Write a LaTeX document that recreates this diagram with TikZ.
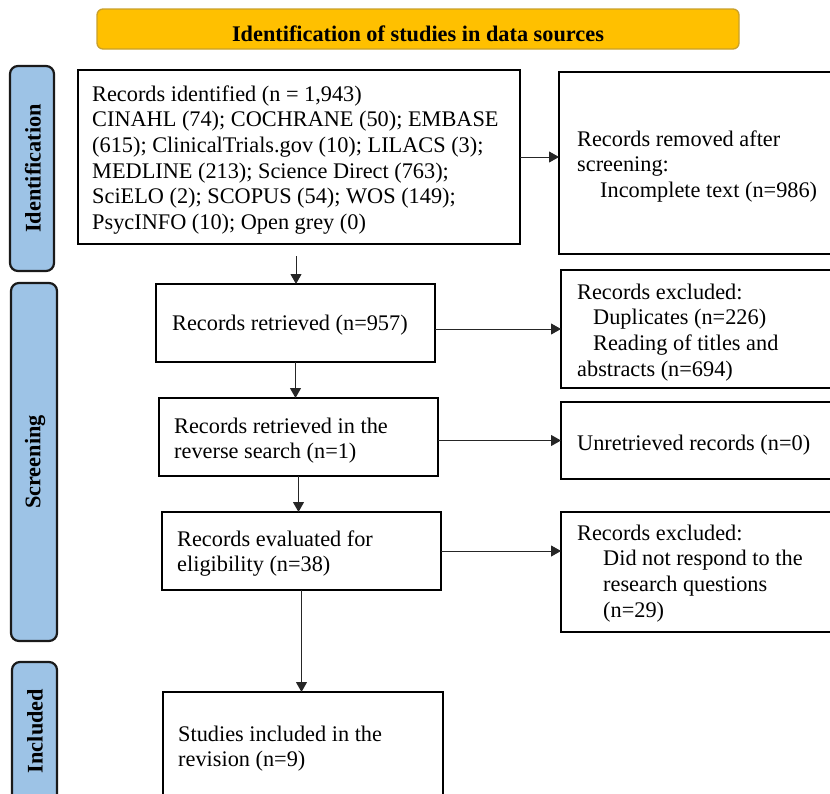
\documentclass[tikz,border=0pt]{standalone}
\usepackage{fontspec}
\setmainfont{Liberation Serif}
\usetikzlibrary{arrows.meta}
\definecolor{hdrfill}{HTML}{FFC000}
\definecolor{hdrline}{HTML}{C9A02A}
\definecolor{sidefill}{HTML}{9DC3E6}
\definecolor{sideline}{HTML}{1A1A1A}
\begin{document}
\begin{tikzpicture}[x=1pt,y=-1pt,
  box/.style={draw=black, line width=1.8pt, inner sep=0pt, outer sep=0pt, fill=white},
  sidebox/.style={draw=sideline, fill=sidefill, line width=2.2pt, rounded corners=8pt, inner sep=0pt, outer sep=0pt},
  txt/.style={anchor=north west, inner sep=0pt, align=left, font=\fontsize{22.3}{25.7}\selectfont},
  arr/.style={line width=1pt, draw=black!85, -{Triangle[length=10pt,width=11pt]}},
  sidelabel/.style={rotate=90, font=\fontsize{22.3}{25.7}\selectfont\bfseries, inner sep=0pt},
  hdrbox/.style={draw=hdrline, fill=hdrfill, line width=1.3pt, rounded corners=6pt, inner sep=0pt}
]
\useasboundingbox (0,0) rectangle (830,793);
\clip (0,0) rectangle (830,793);

% header
\node[hdrbox, minimum width=642pt, minimum height=40pt] (hdr) at (418,29) {};
\node[font=\fontsize{22.3}{25.7}\selectfont\bfseries, anchor=base, inner sep=0pt] (hdrtxt) at (418,41) {Identification of studies in data sources};

% side labels
\node[sidebox, minimum width=44pt, minimum height=205pt] (sid) at (32,168.5) {};
\node[sidelabel] (sidt) at (33,168.5) {Identification};
\node[sidebox, minimum width=46pt, minimum height=358pt] (scr) at (34,462) {};
\node[sidelabel] (scrt) at (35,462) {Screening};
\node[sidebox, minimum width=45pt, minimum height=148pt] (inc) at (34.5,736) {};
\node[sidelabel] (inct) at (35,731) {Included};

% boxes
\node[box, minimum width=442pt, minimum height=174pt] (b1) at (299,157) {};
\node[box, minimum width=286pt, minimum height=182pt] (r1) at (702,163) {};
\node[box, minimum width=279pt, minimum height=78pt] (b2) at (295.5,323) {};
\node[box, minimum width=284pt, minimum height=118pt] (r2) at (703,329) {};
\node[box, minimum width=279pt, minimum height=78pt] (b3) at (298.5,437) {};
\node[box, minimum width=284pt, minimum height=77pt] (r3) at (703,440.5) {};
\node[box, minimum width=279pt, minimum height=78pt] (b4) at (301.5,551) {};
\node[box, minimum width=284pt, minimum height=120pt] (r4) at (703,572) {};
\node[box, minimum width=280pt, minimum height=118pt] (b5) at (303,751) {};

% texts (y = first baseline - 18)
\node[txt] (t1) at (92,83) {\strut Records identified (n = 1,943)\\
\strut CINAHL (74); COCHRANE (50); EMBASE\\
\strut (615); ClinicalTrials.gov (10); LILACS (3);\\
\strut MEDLINE (213); Science Direct (763);\\
\strut SciELO (2); SCOPUS (54); WOS (149);\\
\strut PsycINFO (10); Open grey (0)};
\node[txt] (tr1) at (577,128) {\strut Records removed after\\
\strut screening:\\
\strut\hspace*{23pt}Incomplete text (n=986)};
\node[txt] (t2) at (172,312) {\strut Records retrieved (n=957)};
\node[txt] (tr2) at (577,281) {\strut Records excluded:\\
\strut\hspace*{16pt}Duplicates (n=226)\\
\strut\hspace*{16pt}Reading of titles and\\
\strut abstracts (n=694)};
\node[txt] (t3) at (174,415) {\strut Records retrieved in the\\
\strut reverse search (n=1)};
\node[txt] (tr3) at (577,432) {\strut Unretrieved records (n=0)};
\node[txt] (t4) at (177,528) {\strut Records evaluated for\\
\strut eligibility (n=38)};
\node[txt] (tr4) at (577,522) {\strut Records excluded:\\
\strut\hspace*{26pt}Did not respond to the\\
\strut\hspace*{26pt}research questions\\
\strut\hspace*{26pt}(n=29)};
\node[txt] (t5) at (178,723) {\strut Studies included in the\\
\strut revision (n=9)};

% connectors
\coordinate (c1) at (296,256);
\draw[arr] (c1) -- (c1 |- b2.north);
\draw[arr] (b1.east) -- (b1.east -| r1.west);
\draw[arr] (b2.east |- r2.west) -- (r2.west);
\draw[arr] (b3.east |- r3.west) -- (r3.west);
\draw[arr] (b4.east) -- (b4.east -| r4.west);
\draw[arr] (b2.south) -- (b2.south |- b3.north);
\draw[arr] (b3.south) -- (b3.south |- b4.north);
\draw[arr] (b4.south) -- (b4.south |- b5.north);
\end{tikzpicture}
\end{document}
